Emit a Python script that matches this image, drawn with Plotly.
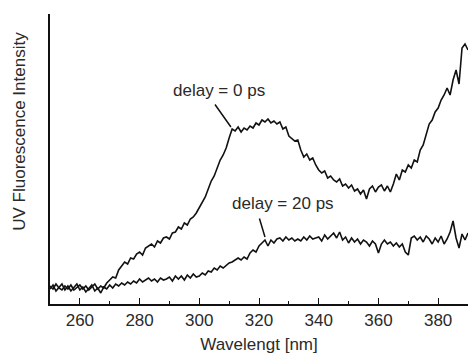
import plotly.graph_objects as go

wavelength = list(range(250, 391))

delay_0ps = [
    18, 15, 20, 16, 14, 18, 15, 19, 14, 17,
    19, 15, 18, 14, 17, 20, 15, 18, 16, 21,
    24, 27, 26, 34, 38, 42, 40, 46, 45, 50,
    52, 49, 56, 58, 60, 57, 63, 61, 66, 67,
    65, 71, 72, 77, 75, 81, 79, 85, 87, 91,
    96, 102, 107, 115, 123, 128, 136, 144, 149, 156,
    166, 175, 173, 177, 172, 176, 174, 178, 176, 181,
    179, 184, 182, 185, 181, 183, 180, 182, 175, 177,
    168, 165, 163, 164, 154, 147, 150, 144, 146, 139,
    134, 131, 133, 126, 128, 124, 122, 125, 118, 120,
    116, 119, 113, 115, 110, 114, 105, 115, 118, 112,
    117, 119, 113, 118, 112, 120, 130, 124, 134, 132,
    139, 136, 144, 142, 154, 159, 169, 180, 184, 192,
    196, 204, 209, 216, 209, 224, 234, 220, 256, 260,
    254,
]

delay_20ps = [
    15, 19, 13, 17, 20, 14, 18, 13, 16, 20,
    14, 17, 12, 16, 19, 13, 16, 11, 17, 15,
    19, 16, 20, 18, 21, 19, 22, 20, 23, 21,
    25, 22, 24, 26, 23, 25, 22, 26, 24, 25,
    27, 23, 28, 25, 28, 24, 29, 26, 30, 27,
    28, 31, 29, 33, 32, 36, 34, 38, 36, 39,
    41, 42, 44, 46, 44, 47, 45, 51, 54, 52,
    58, 61, 64, 58, 64, 61, 65, 66, 63, 67,
    64, 66, 63, 65, 63, 67, 64, 68, 65, 66,
    67, 63, 69, 65, 68, 71, 66, 72, 64, 67,
    61, 66, 62, 65, 60, 64, 62, 58, 63, 60,
    51, 60, 64, 60, 62, 58, 61, 57, 60, 52,
    49, 66, 68, 64, 67, 62, 68, 65, 60, 66,
    62, 68, 60, 65, 72, 83, 66, 56, 70, 64,
    71,
]

x_ticks = [260, 280, 300, 320, 340, 360, 380]
x_title = "Wavelengt [nm]"
y_title = "UV Fluorescence Intensity"
labels = ["delay = 0 ps", "delay = 20 ps"]

FONT = "Liberation Sans, Arial, Helvetica, sans-serif"
INK = "#111111"
TXT = "#2a2a2a"

fig = go.Figure()
for ys in (delay_0ps, delay_20ps):
    fig.add_trace(go.Scatter(x=wavelength, y=ys, mode="lines",
                             line=dict(color=INK, width=1.6),
                             showlegend=False, hoverinfo="skip"))

# label arrows (plain lines, no heads)
arrows = [((304.9, 201), (310.6, 177)), ((320.0, 87), (322.0, 67))]
for (tx, ty), (hx, hy) in arrows:
    fig.add_annotation(x=hx, y=hy, ax=tx, ay=ty, axref="x", ayref="y",
                       xref="x", yref="y", text="", showarrow=True,
                       arrowhead=0, arrowwidth=1.5, arrowcolor=INK)

label_pos = [(306.6, 214), (328.2, 101)]
for (lx, ly), t in zip(label_pos, labels):
    fig.add_annotation(x=lx, y=ly, xref="x", yref="y", text=t,
                       showarrow=False, xanchor="center", yanchor="middle",
                       font=dict(family=FONT, size=17, color=TXT))

fig.add_annotation(x=-0.072, y=0.597, xref="paper", yref="paper",
                   text=y_title, textangle=-90, showarrow=False,
                   xanchor="center", yanchor="middle",
                   font=dict(family=FONT, size=17, color=TXT))

fig.update_layout(
    width=468, height=354,
    margin=dict(l=50, r=0, t=14, b=50),
    paper_bgcolor="white", plot_bgcolor="white",
    font=dict(family=FONT, size=17, color=TXT),
)
fig.update_xaxes(
    range=[250, 390], tickvals=x_ticks, ticks="inside", ticklen=6,
    tickwidth=1.2, tickcolor=INK, showline=True, linecolor=INK, linewidth=1.5,
    showgrid=False, zeroline=False,
    tickfont=dict(family=FONT, size=17, color=TXT),
    minor=dict(dtick=10, tick0=250, ticks="inside", ticklen=3, tickcolor=INK,
               showgrid=False),
    title=dict(text=x_title, font=dict(family=FONT, size=17, color=TXT),
               standoff=9),
)
fig.update_yaxes(
    range=[0, 290], showticklabels=False, ticks="", showline=True,
    linecolor=INK, linewidth=1.5, showgrid=False, zeroline=False,
)

fig.write_html("out.html")
